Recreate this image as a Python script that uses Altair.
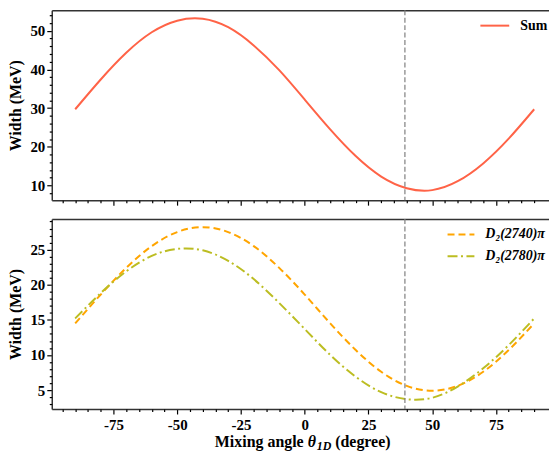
import altair as alt
import pandas as pd

# ---- data ----
THETA = [-90, -80, -70, -60, -50, -40, -30, -20, -10, 0, 10, 20, 30, 40, 50, 60, 70, 80, 90]
SUM_WIDTH = [29.7, 37.4, 44.3, 49.6, 52.6, 53.1, 50.9, 46.2, 39.8, 32.2, 24.5, 17.6, 12.3, 9.3, 8.8, 11.1, 15.7, 22.1, 29.7]
D2740 = [14.5, 18.6, 22.4, 25.5, 27.5, 28.2, 27.5, 25.5, 22.4, 18.6, 14.5, 10.7, 7.6, 5.6, 4.9, 5.6, 7.6, 10.7, 14.5]
D2780 = [15.2, 18.8, 21.9, 24.1, 25.1, 24.9, 23.4, 20.8, 17.4, 13.7, 10.0, 6.9, 4.7, 3.7, 3.9, 5.5, 8.1, 11.4, 15.2]
VLINE_X = [39.3]

SERIES_TOP = ["Sum"]
SERIES_BOT = ["D\u2082(2740)\u03c0", "D\u2082(2780)\u03c0"]
COLORS_TOP = ["#ff6347"]
COLORS_BOT = ["#ffa500", "#bcbd22"]
DASHES_BOT = [[7, 4], [10, 3.5, 2, 3.5]]

X_MAJOR = [-75, -50, -25, 0, 25, 50, 75]
X_MINOR = [v for v in range(-95, 95, 5) if v % 25 != 0]
TOP_Y_MAJOR = [10, 20, 30, 40, 50]
TOP_Y_MINOR = [v for v in range(8, 56, 2) if v % 10 != 0]
BOT_Y_MAJOR = [5, 10, 15, 20, 25]
BOT_Y_MINOR = [v for v in range(3, 30) if v % 5 != 0]

W, H = 500, 191
X_DOMAIN = [-99.2, -99.2 + W / 2.564]
TOP_Y_DOMAIN = [6.2, 55.3]
BOT_Y_DOMAIN = [2.3, 29.35]

FONT = "Liberation Serif, Times New Roman, serif"
HYPHEN = "replace(datum.label, '\u2212', '-')"

df_top = pd.DataFrame({"theta": THETA, "width": SUM_WIDTH, "series": SERIES_TOP[0]})
df_bot = pd.concat([
    pd.DataFrame({"theta": THETA, "width": D2740, "series": SERIES_BOT[0]}),
    pd.DataFrame({"theta": THETA, "width": D2780, "series": SERIES_BOT[1]}),
])
df_vline = pd.DataFrame({"x": VLINE_X})


def panel(df, ydom, ymaj, ymin, cdom, crng, drng, legend, show_labels):
    xs = alt.Scale(domain=X_DOMAIN, nice=False, zero=False)
    ys = alt.Scale(domain=ydom, nice=False, zero=False)
    enc = dict(
        x=alt.X("theta:Q", scale=xs,
                axis=alt.Axis(orient="bottom", values=X_MAJOR, labels=show_labels, title=None,
                              tickSize=5, labelPadding=4, domain=True, labelExpr=HYPHEN)),
        y=alt.Y("width:Q", scale=ys,
                axis=alt.Axis(orient="left", values=ymaj, title="Width (MeV)", tickSize=5,
                              labelPadding=2, titlePadding=6, domain=True)),
        color=alt.Color("series:N", scale=alt.Scale(domain=cdom, range=crng), legend=legend),
    )
    if drng is not None:
        enc["strokeDash"] = alt.StrokeDash("series:N", scale=alt.Scale(domain=cdom, range=drng),
                                           legend=legend)
    lines = alt.Chart(df).mark_line(strokeWidth=2, interpolate="natural", clip=True).encode(**enc)

    vline = alt.Chart(df_vline).mark_rule(color="#808080", strokeWidth=1.2, strokeDash=[5, 2.5]).encode(
        x=alt.X("x:Q", scale=xs,
                axis=alt.Axis(orient="bottom", values=X_MINOR, labels=False, title=None,
                              tickSize=2.5, domain=False)))

    frame = alt.Chart(df).mark_line(strokeOpacity=0).encode(
        x=alt.X("theta:Q", scale=xs,
                axis=alt.Axis(orient="top", ticks=False, labels=False, title=None, domain=True)),
        y=alt.Y("width:Q", scale=ys,
                axis=alt.Axis(orient="left", values=ymin, labels=False, title=None,
                              tickSize=2.5, domain=False)))
    return [lines, vline, frame]


leg_top = alt.Legend(title=None, orient="none", legendX=430, legendY=0, symbolType="stroke",
                     symbolSize=841, symbolStrokeWidth=2, labelFont=FONT, labelFontSize=14,
                     labelFontWeight="bold", labelColor="black", labelOffset=10)
leg_bot = alt.Legend(title=None, orient="none", legendX=397, legendY=1, symbolType="stroke",
                     symbolSize=729, symbolStrokeWidth=2, labelFont=FONT, labelFontSize=14,
                     labelFontWeight="bold", labelFontStyle="italic", labelColor="black",
                     labelOffset=10, rowPadding=-1)

top_layers = panel(df_top, TOP_Y_DOMAIN, TOP_Y_MAJOR, TOP_Y_MINOR, SERIES_TOP, COLORS_TOP, None,
                   leg_top, False)
bot_layers = panel(df_bot, BOT_Y_DOMAIN, BOT_Y_MAJOR, BOT_Y_MINOR, SERIES_BOT, COLORS_BOT, DASHES_BOT,
                   leg_bot, True)

# x-axis title with subscript, as text pieces under the bottom panel
one = pd.DataFrame({"a": [0]})
TITLE_Y = 229.5
t1 = alt.Chart(one).mark_text(text="Mixing angle", font=FONT, fontSize=16, fontWeight="bold",
                              align="left", baseline="alphabetic", color="black").encode(
    x=alt.value(164), y=alt.value(TITLE_Y))
t2 = alt.Chart(one).mark_text(text="\u03b8", font=FONT, fontSize=16, fontWeight="bold", fontStyle="italic",
                              align="left", baseline="alphabetic", color="black").encode(
    x=alt.value(257.5), y=alt.value(TITLE_Y))
t3 = alt.Chart(one).mark_text(text="1D", font=FONT, fontSize=12, fontWeight="bold", fontStyle="italic",
                              align="left", baseline="alphabetic", color="black").encode(
    x=alt.value(266.5), y=alt.value(TITLE_Y + 3))
t4 = alt.Chart(one).mark_text(text="(degree)", font=FONT, fontSize=16, fontWeight="bold",
                              align="left", baseline="alphabetic", color="black").encode(
    x=alt.value(285), y=alt.value(TITLE_Y))

top = alt.layer(*top_layers).resolve_axis(x="independent", y="independent").properties(width=W, height=H)
bot = alt.layer(*bot_layers, t1, t2, t3, t4).resolve_axis(x="independent", y="independent").properties(
    width=W, height=H)

chart = alt.vconcat(top, bot, spacing=12).resolve_scale(
    x="independent", y="independent", color="independent", strokeDash="independent"
).properties(padding=0).configure_view(stroke=None).configure_axis(
    grid=False, labelFont=FONT, labelFontSize=15, labelFontWeight="bold", labelColor="black",
    titleFont=FONT, titleFontSize=16, titleFontWeight="bold", titleColor="black",
    tickColor="black", tickWidth=1.2, domainColor="#333333", domainWidth=1.5
)

chart.save("out.html", embed_options={"renderer": "svg", "actions": False})
